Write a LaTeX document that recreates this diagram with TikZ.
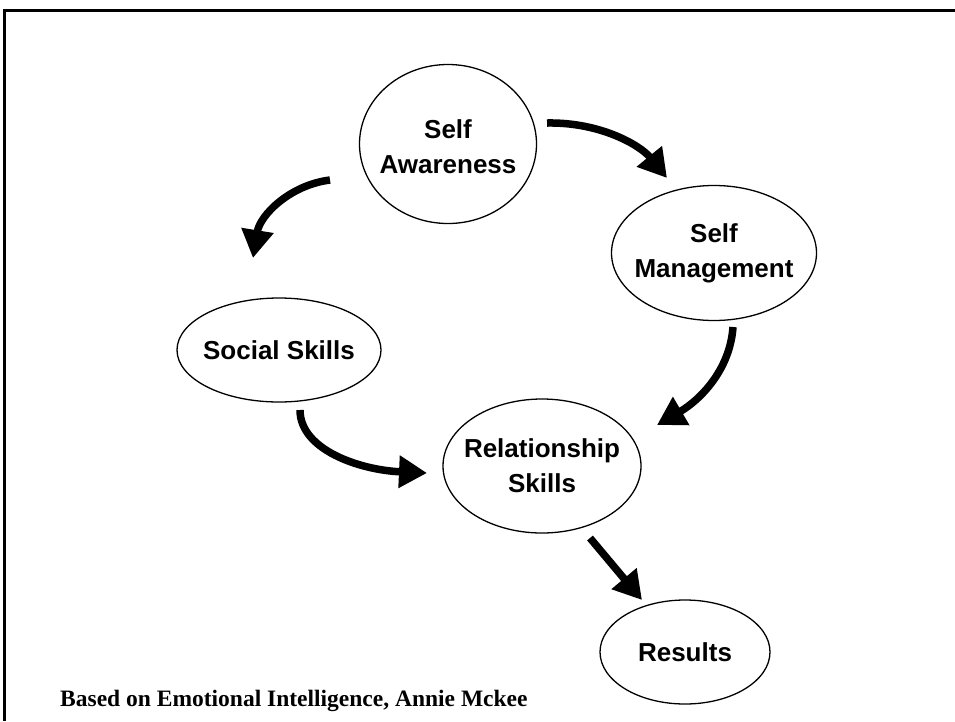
\documentclass[tikz,border=0pt]{standalone}
\usepackage{fontspec}
\setmainfont{Liberation Sans}
\newfontfamily\capfont{Liberation Serif}
\usetikzlibrary{arrows.meta,shapes.geometric}
\begin{document}
\begin{tikzpicture}[x=1pt,y=-1pt,
  bubble/.style={draw, line width=1.3pt, ellipse, inner sep=0pt},
  lbl/.style={align=center, inner sep=0pt, font=\fontsize{26}{35}\selectfont\bfseries},
  flow/.style={line width=7.5pt, -{Triangle[length=28pt,width=31pt]}}]
\useasboundingbox (0,0) rectangle (955,721);
\draw[line width=3pt] (955,10) -- (4,10) -- (4,721);

\node[bubble, minimum width=177pt, minimum height=159pt] (sa) at (448,144) {};
\node[bubble, minimum width=205pt, minimum height=135pt] (sm) at (714,253) {};
\node[bubble, minimum width=204pt, minimum height=104pt] (ss) at (279,350) {};
\node[bubble, minimum width=198pt, minimum height=134pt] (rs) at (542,466) {};
\node[bubble, minimum width=170pt, minimum height=104pt] (re) at (685,652) {};

\node[lbl] (sat) at ([yshift=-3pt]sa.center) {Self\\Awareness};
\node[lbl] (smt) at (sm.center) {Self\\Management};
\node[lbl] (sst) at (ss.center) {Social Skills};
\node[lbl] (rst) at (rs.center) {Relationship\\Skills};
\node[lbl] (ret) at (re.center) {Results};

\node[anchor=base west, inner sep=0pt, font=\capfont\fontsize{23.5}{26}\selectfont\bfseries] (cap) at (60,706) {Based on Emotional Intelligence, Annie Mckee};

\coordinate (a1s) at (547,123); \coordinate (a1e) at (667,178);
\coordinate (a2s) at (330,180); \coordinate (a2e) at (253,258);
\coordinate (a3s) at (300,410); \coordinate (a3e) at (427,473);
\coordinate (a4s) at (733,327); \coordinate (a4e) at (657,425);
\coordinate (a5s) at (590,538); \coordinate (a5e) at (642,600);

\draw[flow] (a1s) .. controls (600,122) and (640,145) .. (a1e);
\draw[flow] (a2s) .. controls (290,185) and (260,215) .. (a2e);
\draw[flow] (a3s) .. controls (300,450) and (360,470) .. (a3e);
\draw[flow] (a4s) .. controls (730,370) and (700,400) .. (a4e);
\draw[flow] (a5s) -- (a5e);
\end{tikzpicture}
\end{document}
